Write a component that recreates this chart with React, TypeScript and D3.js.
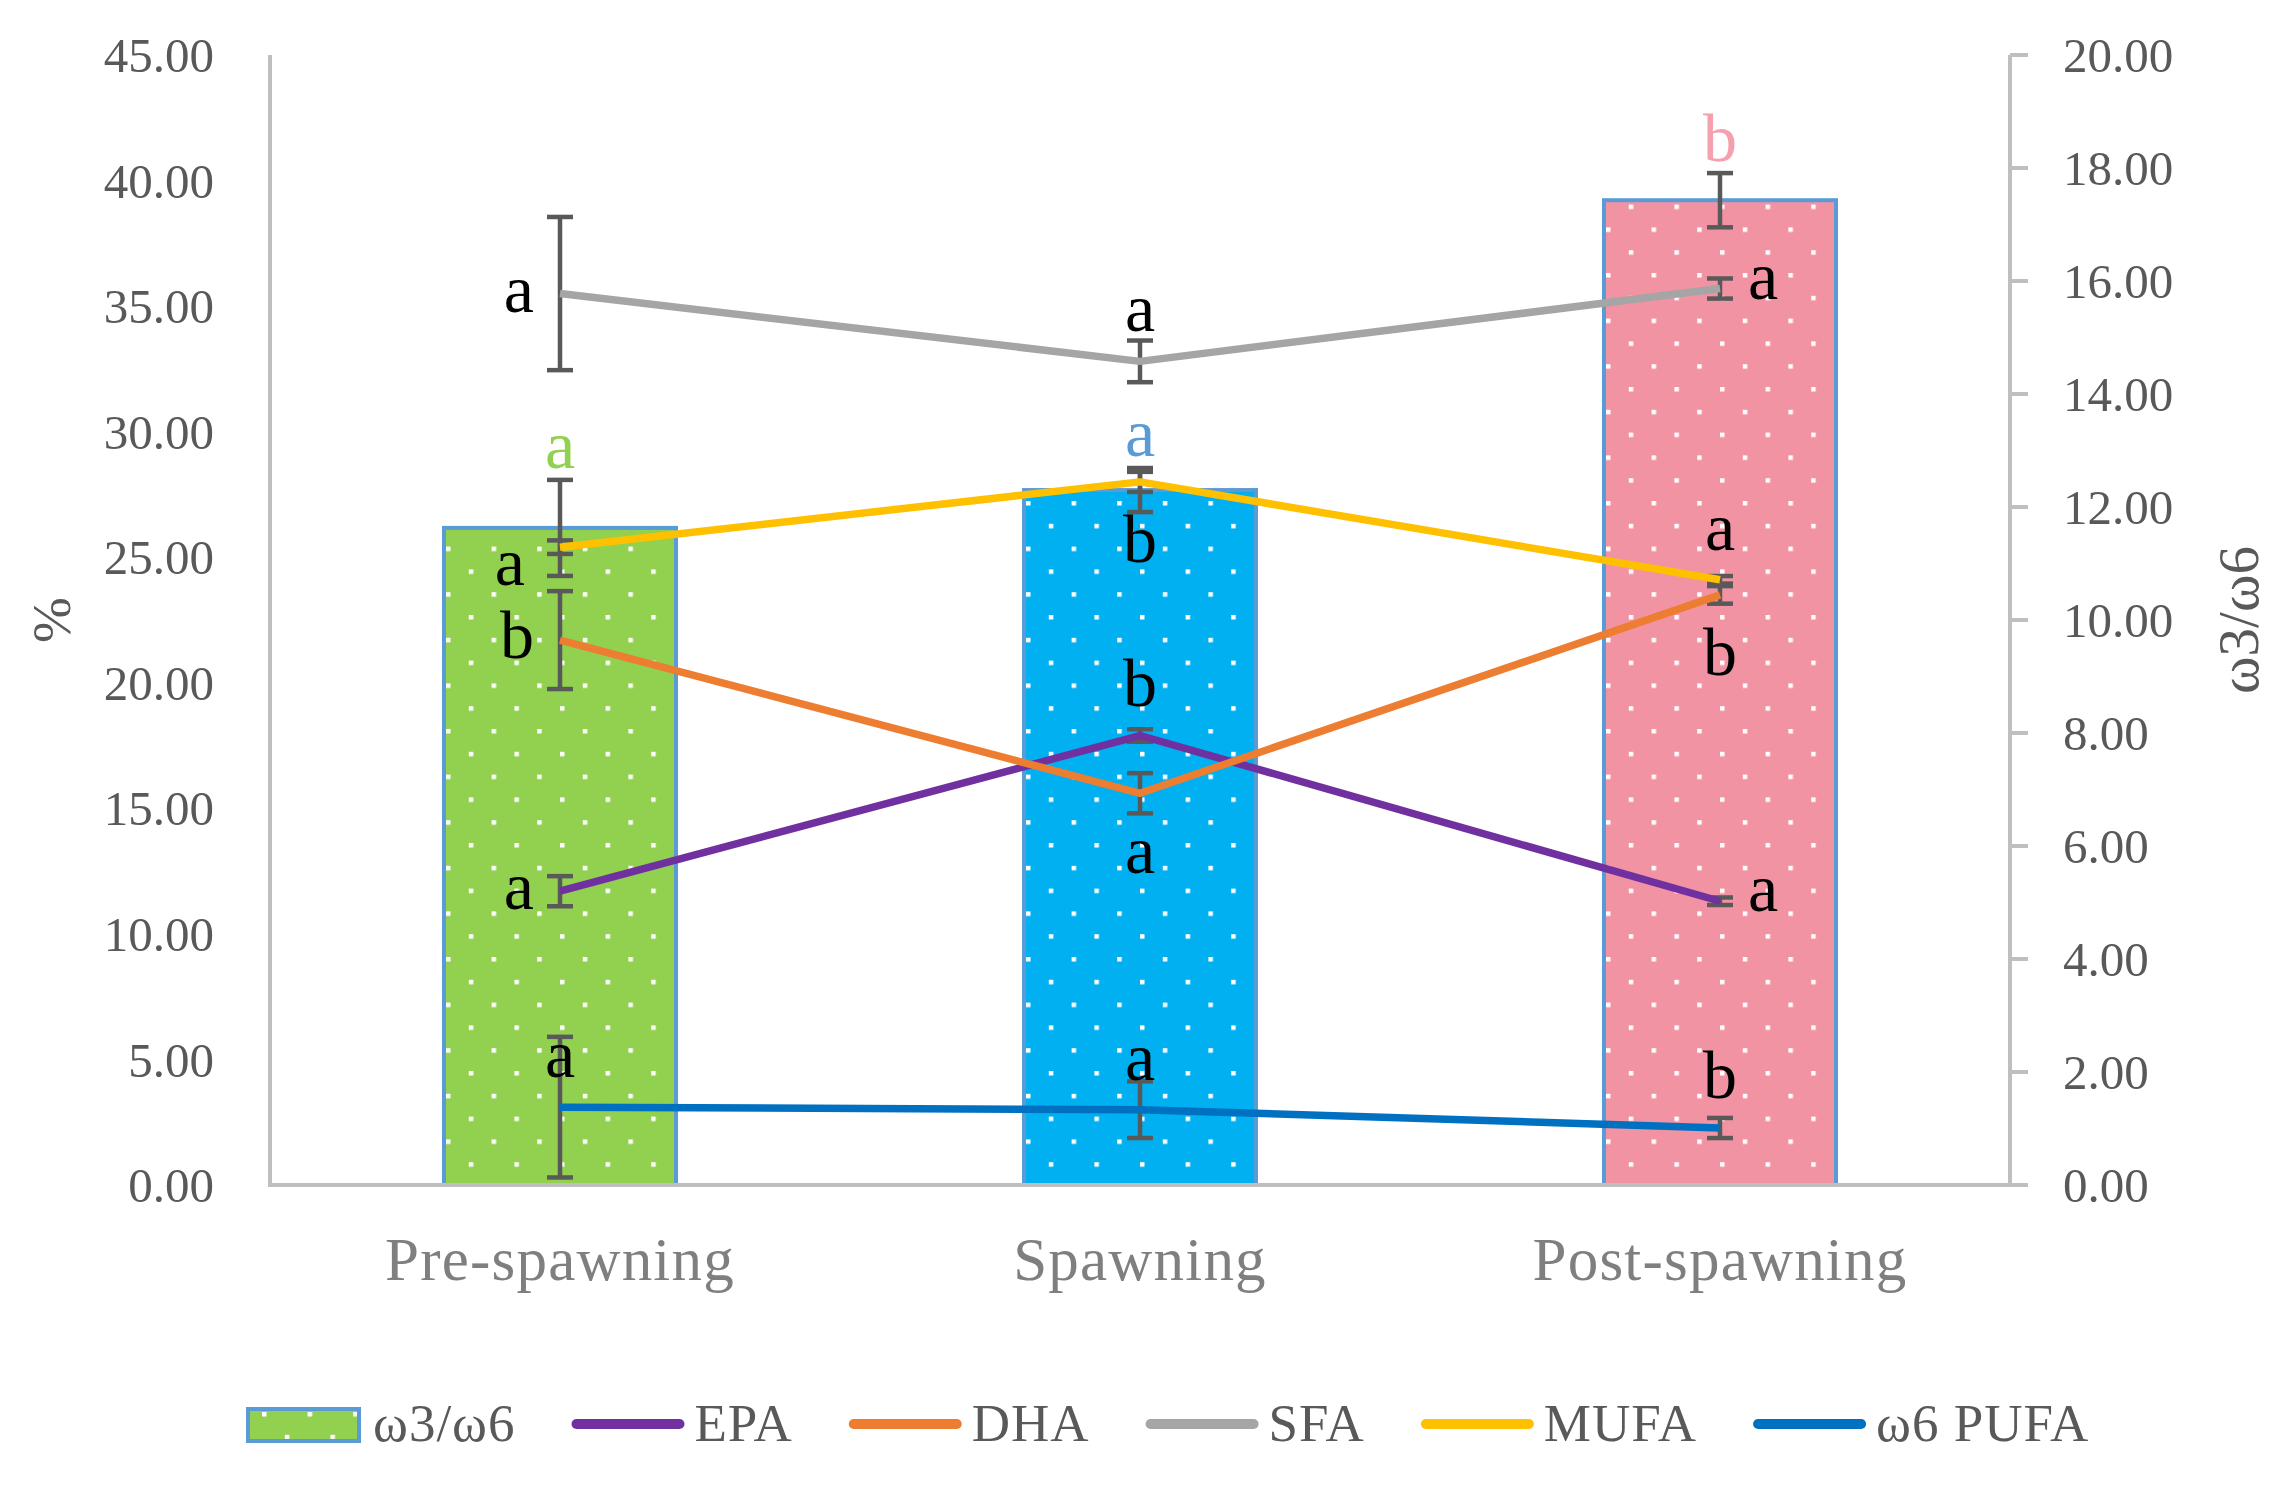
import { useMemo } from "react";
import * as d3 from "d3";

const width = 2285;
const height = 1489;
const plot = { left: 270, right: 2010, top: 55, bottom: 1185 };

const categories = ["Pre-spawning", "Spawning", "Post-spawning"];

// ω3/ω6 ratio (bars, right axis)
const ratioValues = [11.63, 12.3, 17.43];
const ratioErrors = [0.85, 0.39, 0.48];
const ratioLetters = ["a", "a", "b"];

// fatty acids (lines, left axis, %)
const epaValues = [11.7, 17.9, 11.3];
const epaErrors = [0.6, 0.25, 0.15];
const epaLetters = ["a", "b", "a"];
const epaPlacement = ["left", "above", "right"];

const dhaValues = [21.7, 15.6, 23.5];
const dhaErrors = [1.95, 0.8, 0.35];
const dhaLetters = ["b", "a", "b"];
const dhaPlacement = ["left", "below", "below"];

const sfaValues = [35.5, 32.8, 35.7];
const sfaErrors = [3.05, 0.83, 0.4];
const sfaLetters = ["a", "a", "a"];
const sfaPlacement = ["left", "above", "right"];

const mufaValues = [25.4, 28.0, 24.1];
const mufaErrors = [0.27, 0.4, 0.15];
const mufaLetters = ["a", "b", "a"];
const mufaPlacement = ["belowleft", "below", "above"];

const n6Values = [3.1, 3.0, 2.27];
const n6Errors = [2.8, 1.13, 0.4];
const n6Letters = ["a", "a", "b"];
const n6Placement = ["above", "above", "above"];

const leftTicks = d3.range(0, 45.01, 5);
const rightTicks = d3.range(0, 20.01, 2);

const barColors = ["#92D050", "#00B0F0", "#F193A3"];
const barLetterColors = ["#92D050", "#5B9BD5", "#F4A0AE"];
const barStroke = "#5B9BD5";

const lineSeries = [
  { name: "EPA", color: "#7030A0", values: epaValues, errors: epaErrors, letters: epaLetters, placement: epaPlacement },
  { name: "DHA", color: "#ED7D31", values: dhaValues, errors: dhaErrors, letters: dhaLetters, placement: dhaPlacement },
  { name: "SFA", color: "#A5A5A5", values: sfaValues, errors: sfaErrors, letters: sfaLetters, placement: sfaPlacement },
  { name: "MUFA", color: "#FFC000", values: mufaValues, errors: mufaErrors, letters: mufaLetters, placement: mufaPlacement },
  { name: "ω6 PUFA", color: "#0070C0", values: n6Values, errors: n6Errors, letters: n6Letters, placement: n6Placement },
];

const font = "'Liberation Serif', 'Times New Roman', serif";
const axisTextColor = "#595959";
const axisLineColor = "#BFBFBF";
const errColor = "#595959";

const legendFontSize = 53;
const legendSpacing = 1;

function measure(text: string, size: number, spacing: number) {
  const canvas = document.createElement("canvas");
  const ctx = canvas.getContext("2d");
  if (!ctx) return text.length * size * 0.5;
  ctx.font = `${size}px 'Liberation Serif'`;
  return ctx.measureText(text).width + spacing * text.length;
}

function ErrorBar({ x, y1, y2 }: { x: number; y1: number; y2: number }) {
  const cap = 13;
  return (
    <g stroke={errColor} strokeWidth={4.5}>
      <line x1={x} x2={x} y1={y1} y2={y2} />
      <line x1={x - cap} x2={x + cap} y1={y1} y2={y1} />
      <line x1={x - cap} x2={x + cap} y1={y2} y2={y2} />
    </g>
  );
}

export default function App() {
  const x = d3
    .scaleBand<string>()
    .domain(categories)
    .range([plot.left, plot.right])
    .paddingInner(0.6)
    .paddingOuter(0.3);

  const yLeft = d3.scaleLinear().domain([0, 45]).range([plot.bottom, plot.top]);
  const yRight = d3.scaleLinear().domain([0, 20]).range([plot.bottom, plot.top]);

  const cx = (c: string) => (x(c) ?? 0) + x.bandwidth() / 2;
  const fmt = d3.format(".2f");

  const line = d3
    .line<number>()
    .x((_, i) => cx(categories[i]))
    .y((d) => yLeft(d));

  // 圖例排版：依文字寬度依序排開
  const legendItems = useMemo(() => {
    const names = ["ω3/ω6", ...lineSeries.map((s) => s.name)];
    let cursor = 248;
    return names.map((name, i) => {
      const symbolW = i === 0 ? 111 : 113;
      const gap = i === 0 ? 14 : 10;
      const textW = measure(name, legendFontSize, legendSpacing);
      const item = { name, x: cursor, textX: cursor + symbolW + gap, symbolW };
      cursor += symbolW + gap + textW + 56;
      return item;
    });
  }, []);

  const labelPos = (placement: string, px: number, py: number) => {
    switch (placement) {
      case "left":
        return { x: px - 26, y: py + 18, anchor: "end" };
      case "right":
        return { x: px + 28, y: py + 10, anchor: "start" };
      case "above":
        return { x: px, y: py - 30, anchor: "middle" };
      case "below":
        return { x: px, y: py + 80, anchor: "middle" };
      default:
        return { x: px - 35, y: py + 38, anchor: "end" };
    }
  };

  return (
    <svg
      width={width}
      height={height}
      viewBox={`0 0 ${width} ${height}`}
      style={{ position: "absolute", left: 0, top: 0, background: "#fff" }}
      fontFamily={font}
    >
      <defs>
        {barColors.map((c, i) => (
          <pattern
            key={c}
            id={`dots-${i}`}
            patternUnits="userSpaceOnUse"
            width={45.6}
            height={45.6}
            x={(x(categories[i]) ?? 0) + 2}
            y={plot.bottom}
          >
            <rect width={45.6} height={45.6} fill={c} />
            <rect x={0} y={0} width={4.5} height={4.5} fill="#fff" />
            <rect x={22.8} y={22.8} width={4.5} height={4.5} fill="#fff" />
          </pattern>
        ))}
        <pattern id="dots-legend" patternUnits="userSpaceOnUse" width={45.6} height={45.6} x={262} y={1412}>
          <rect width={45.6} height={45.6} fill={barColors[0]} />
          <rect x={0} y={0} width={4.5} height={4.5} fill="#fff" />
          <rect x={22.8} y={22.8} width={4.5} height={4.5} fill="#fff" />
        </pattern>
      </defs>

      <rect width={width} height={height} fill="#fff" />

      {/* bars */}
      {categories.map((c, i) => (
        <rect
          key={c}
          x={x(c)}
          y={yRight(ratioValues[i])}
          width={x.bandwidth()}
          height={yRight(0) - yRight(ratioValues[i])}
          fill={`url(#dots-${i})`}
          stroke={barStroke}
          strokeWidth={4}
        />
      ))}

      {/* axes */}
      <line x1={plot.left} x2={plot.left} y1={plot.top} y2={plot.bottom} stroke={axisLineColor} strokeWidth={4} />
      <line x1={plot.right} x2={plot.right} y1={plot.top} y2={plot.bottom} stroke={axisLineColor} strokeWidth={4} />
      <line x1={plot.left - 2} x2={plot.right + 18} y1={plot.bottom} y2={plot.bottom} stroke={axisLineColor} strokeWidth={4} />
      {rightTicks.map((t) => (
        <g key={t}>
          <line x1={plot.right} x2={plot.right + 18} y1={yRight(t)} y2={yRight(t)} stroke={axisLineColor} strokeWidth={4} />
          <text x={2063} y={yRight(t)} dy="0.35em" fontSize={49} fill={axisTextColor}>
            {fmt(t)}
          </text>
        </g>
      ))}
      {leftTicks.map((t) => (
        <text key={t} x={214} y={yLeft(t)} dy="0.35em" textAnchor="end" fontSize={49} fill={axisTextColor}>
          {fmt(t)}
        </text>
      ))}
      {categories.map((c) => (
        <text
          key={c}
          x={cx(c)}
          y={1280}
          textAnchor="middle"
          fontSize={61}
          letterSpacing={1.2}
          fill="#7F7F7F"
        >
          {c}
        </text>
      ))}
      <text
        transform={`translate(51, ${(plot.top + plot.bottom) / 2}) rotate(-90)`}
        textAnchor="middle"
        dominantBaseline="central"
        fontSize={55}
        fill={axisTextColor}
      >
        %
      </text>
      <text
        transform={`translate(2238, ${(plot.top + plot.bottom) / 2}) rotate(-90)`}
        textAnchor="middle"
        dominantBaseline="central"
        fontSize={57}
        fill={axisTextColor}
      >
        ω3/ω6
      </text>

      {/* error bars */}
      {categories.map((c, i) => (
        <ErrorBar
          key={`bar-err-${c}`}
          x={cx(c)}
          y1={yRight(ratioValues[i] + ratioErrors[i])}
          y2={yRight(ratioValues[i] - ratioErrors[i])}
        />
      ))}
      {lineSeries.map((s) =>
        categories.map((c, i) => (
          <ErrorBar
            key={`${s.name}-err-${c}`}
            x={cx(c)}
            y1={yLeft(s.values[i] + s.errors[i])}
            y2={yLeft(Math.max(0, s.values[i] - s.errors[i]))}
          />
        )),
      )}

      {/* lines */}
      {lineSeries.map((s) => (
        <path
          key={s.name}
          d={line(s.values) ?? ""}
          fill="none"
          stroke={s.color}
          strokeWidth={7.5}
          strokeLinejoin="round"
        />
      ))}

      {/* significance letters */}
      {categories.map((c, i) => (
        <text
          key={`bar-letter-${c}`}
          x={cx(c)}
          y={yRight(ratioValues[i] + ratioErrors[i]) - 12}
          textAnchor="middle"
          fontSize={68}
          fill={barLetterColors[i]}
        >
          {ratioLetters[i]}
        </text>
      ))}
      {lineSeries.map((s) =>
        categories.map((c, i) => {
          const p = labelPos(s.placement[i], cx(c), yLeft(s.values[i]));
          return (
            <text
              key={`${s.name}-letter-${c}`}
              x={p.x}
              y={p.y}
              textAnchor={p.anchor}
              fontSize={68}
              fill="#000"
            >
              {s.letters[i]}
            </text>
          );
        }),
      )}

      {/* legend */}
      {legendItems.map((item, i) => (
        <g key={item.name}>
          {i === 0 ? (
            <rect
              x={item.x}
              y={1409}
              width={item.symbolW}
              height={32}
              fill="url(#dots-legend)"
              stroke={barStroke}
              strokeWidth={4}
            />
          ) : (
            <line
              x1={item.x + 5}
              x2={item.x + item.symbolW - 5}
              y1={1424}
              y2={1424}
              stroke={lineSeries[i - 1].color}
              strokeWidth={10}
              strokeLinecap="round"
            />
          )}
          <text
            x={item.textX}
            y={1441}
            fontSize={legendFontSize}
            letterSpacing={legendSpacing}
            fill={axisTextColor}
          >
            {item.name}
          </text>
        </g>
      ))}
    </svg>
  );
}
